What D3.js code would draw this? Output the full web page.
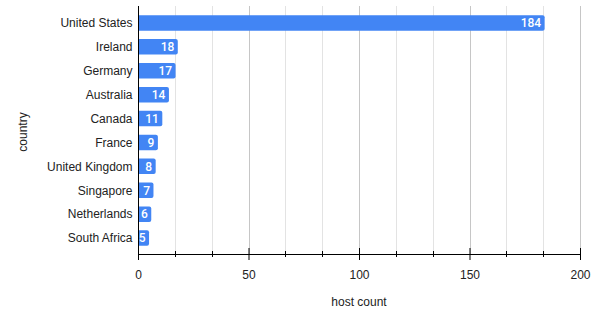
<!DOCTYPE html>
<html>
<head>
<meta charset="utf-8">
<script src="https://cdn.jsdelivr.net/npm/d3@7"></script>
<style>
  body { margin: 0; background: #fff; }
  svg { display: block; }
</style>
</head>
<body>
<div id="container"></div>
<script>
// host count per country, horizontal bars
const countries = [ 'United States', 'Ireland', 'Germany', 'Australia', 'Canada',
  'France', 'United Kingdom', 'Singapore', 'Netherlands', 'South Africa' ];
const hostCounts = [ 184, 18, 17, 14, 11, 9, 8, 7, 6, 5 ];
const majorTicks = [ 0, 50, 100, 150, 200 ];

const W = 593, H = 315;
const plot = { left: 138, right: 580, top: 6, bottom: 254 };
const barColor = '#4285f4';

const data = countries.map( ( c, i ) => ( { country: c, value: hostCounts[ i ] } ) );

const svg = d3.select( '#container' ).append( 'svg' )
  .attr( 'width', W )
  .attr( 'height', H );

//_____ SCALES _____
const x = d3.scaleLinear().domain( [ 0, 200 ] ).range( [ plot.left, plot.right ] );
const y = d3.scaleBand().domain( countries ).range( [ 11, 250 ] )
  .paddingInner( 0.35 ).paddingOuter( 0.175 );

//--- minor ticks: two between each major
const minorTicks = [];
for ( let i = 0; i < majorTicks.length - 1; i++ ) {
  const step = ( majorTicks[ i + 1 ] - majorTicks[ i ] ) / 3;
  minorTicks.push( majorTicks[ i ] + step, majorTicks[ i ] + 2 * step );
}

//_____ GRID _____
svg.append( 'g' ).selectAll( 'line' )
  .data( minorTicks )
  .join( 'line' )
  .attr( 'x1', d => Math.round( x( d ) ) + 0.5 )
  .attr( 'x2', d => Math.round( x( d ) ) + 0.5 )
  .attr( 'y1', plot.top )
  .attr( 'y2', plot.bottom )
  .attr( 'stroke', '#e3e3e3' );

svg.append( 'g' ).selectAll( 'line' )
  .data( majorTicks.slice( 1 ) )
  .join( 'line' )
  .attr( 'x1', d => Math.round( x( d ) ) + 0.5 )
  .attr( 'x2', d => Math.round( x( d ) ) + 0.5 )
  .attr( 'y1', plot.top )
  .attr( 'y2', plot.bottom )
  .attr( 'stroke', '#c6c6c6' );

//_____ BARS (rounded right end) _____
const r = 2;
svg.append( 'g' ).selectAll( 'path' )
  .data( data )
  .join( 'path' )
  .attr( 'fill', barColor )
  .attr( 'd', d => {
    const x0 = x( 0 ), x1 = x( d.value ), y0 = y( d.country ), h = y.bandwidth();
    return `M${x0},${y0}H${x1 - r}Q${x1},${y0} ${x1},${y0 + r}V${y0 + h - r}Q${x1},${y0 + h} ${x1 - r},${y0 + h}H${x0}Z`;
  } );

//_____ VALUE LABELS _____
svg.append( 'g' ).selectAll( 'text' )
  .data( data )
  .join( 'text' )
  .attr( 'x', d => x( d.value ) - 3.5 )
  .attr( 'y', d => y( d.country ) + y.bandwidth() / 2 )
  .attr( 'dy', '0.36em' )
  .attr( 'text-anchor', 'end' )
  .style( 'font-family', 'Roboto, sans-serif' )
  .style( 'font-weight', 500 )
  .style( 'font-size', '12px' )
  .style( 'fill', '#fff' )
  .text( d => d.value );

//_____ AXES _____
const axisX = svg.append( 'g' )
  .attr( 'transform', `translate(0, ${plot.bottom})` )
  .call( d3.axisBottom( x ).tickValues( majorTicks ).tickSize( 6 ).tickPadding( 10 ) );
axisX.select( '.domain' ).remove();
axisX.selectAll( '.tick line' ).attr( 'y1', -6 ).attr( 'y2', 6 ).attr( 'stroke', '#000' );
axisX.selectAll( 'text' )
  .style( 'font-family', 'Arial, "Liberation Sans", sans-serif' )
  .style( 'font-size', '12px' )
  .style( 'fill', '#222' );

svg.append( 'g' ).selectAll( 'line' )
  .data( minorTicks )
  .join( 'line' )
  .attr( 'x1', d => Math.round( x( d ) ) + 0.5 )
  .attr( 'x2', d => Math.round( x( d ) ) + 0.5 )
  .attr( 'y1', plot.bottom - 3 )
  .attr( 'y2', plot.bottom + 3 )
  .attr( 'stroke', '#000' );

svg.append( 'line' )
  .attr( 'x1', plot.left ).attr( 'x2', plot.right + 1 )
  .attr( 'y1', plot.bottom + 0.5 ).attr( 'y2', plot.bottom + 0.5 )
  .attr( 'stroke', '#000' );

svg.append( 'line' )
  .attr( 'x1', plot.left + 0.5 ).attr( 'x2', plot.left + 0.5 )
  .attr( 'y1', plot.top ).attr( 'y2', plot.bottom + 1 )
  .attr( 'stroke', '#000' );

//>>> country labels
svg.append( 'g' ).selectAll( 'text' )
  .data( countries )
  .join( 'text' )
  .attr( 'x', plot.left - 5.5 )
  .attr( 'y', d => y( d ) + y.bandwidth() / 2 )
  .attr( 'dy', '0.36em' )
  .attr( 'text-anchor', 'end' )
  .style( 'font-family', 'Arial, "Liberation Sans", sans-serif' )
  .style( 'font-size', '12px' )
  .style( 'fill', '#222' )
  .text( d => d );

//_____ AXIS TITLES _____
svg.append( 'text' )
  .attr( 'transform', 'translate(27, 132) rotate(-90)' )
  .attr( 'text-anchor', 'middle' )
  .style( 'font-family', 'Arial, "Liberation Sans", sans-serif' )
  .style( 'font-size', '12px' )
  .style( 'fill', '#222' )
  .text( 'country' );

svg.append( 'text' )
  .attr( 'x', 359 )
  .attr( 'y', 306 )
  .attr( 'text-anchor', 'middle' )
  .style( 'font-family', 'Arial, "Liberation Sans", sans-serif' )
  .style( 'font-size', '12px' )
  .style( 'fill', '#222' )
  .text( 'host count' );
</script>
</body>
</html>
